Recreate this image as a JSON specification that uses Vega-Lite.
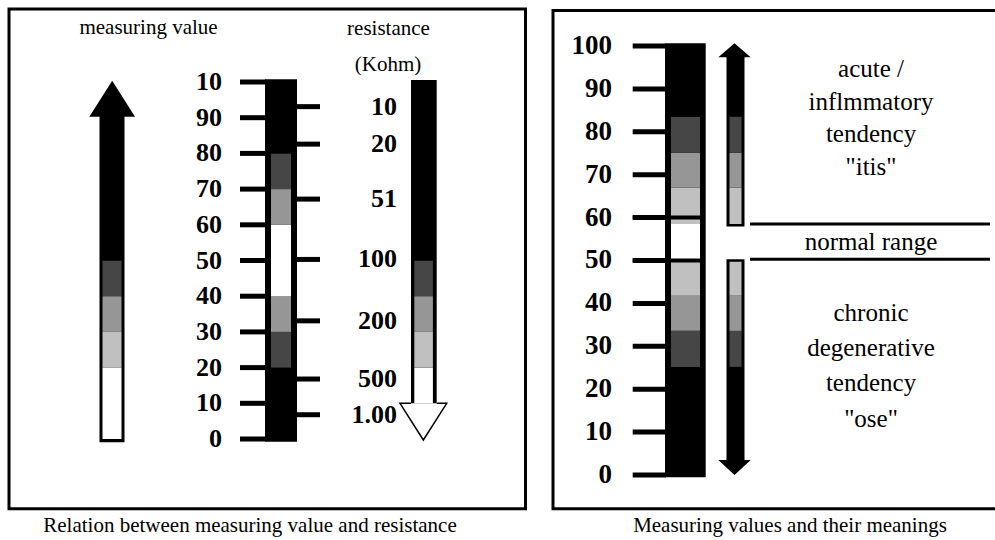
{
  "$schema": "https://vega.github.io/schema/vega-lite/v6.json",
  "width": 995,
  "height": 540,
  "autosize": {"type": "fit", "contains": "padding"},
  "padding": 0,
  "background": "white",
  "config": {"view": {"stroke": null}, "font": "Liberation Serif, DejaVu Serif, Times New Roman, serif", "text": {"font": "Liberation Serif, DejaVu Serif, Times New Roman, serif"}},
  "datasets": {
    "measuringArrow": [
      {"from": 0, "to": 20, "shade": "white"},
      {"from": 20, "to": 30, "shade": "light gray"},
      {"from": 30, "to": 40, "shade": "gray"},
      {"from": 40, "to": 50, "shade": "dark gray"},
      {"from": 50, "to": 91, "shade": "black"}
    ],
    "valueBar": [
      {"from": 0, "to": 20, "shade": "black"},
      {"from": 20, "to": 30, "shade": "dark gray"},
      {"from": 30, "to": 40, "shade": "gray"},
      {"from": 40, "to": 60, "shade": "white"},
      {"from": 60, "to": 70, "shade": "gray"},
      {"from": 70, "to": 80, "shade": "dark gray"},
      {"from": 80, "to": 100, "shade": "black"}
    ],
    "resistanceArrow": [
      {"from": 10, "to": 20, "shade": "white"},
      {"from": 20, "to": 30, "shade": "light gray"},
      {"from": 30, "to": 40, "shade": "gray"},
      {"from": 40, "to": 50, "shade": "dark gray"},
      {"from": 50, "to": 100, "shade": "black"}
    ],
    "leftScale": [
      {"value": 0, "label": "0"},
      {"value": 10, "label": "10"},
      {"value": 20, "label": "20"},
      {"value": 30, "label": "30"},
      {"value": 40, "label": "40"},
      {"value": 50, "label": "50"},
      {"value": 60, "label": "60"},
      {"value": 70, "label": "70"},
      {"value": 80, "label": "80"},
      {"value": 90, "label": "90"},
      {"value": 100, "label": "10"}
    ],
    "resistance": [
      {"kohm": "10", "value": 93.1},
      {"kohm": "20", "value": 82.6},
      {"kohm": "51", "value": 67.2},
      {"kohm": "100", "value": 50.3},
      {"kohm": "200", "value": 33.1},
      {"kohm": "500", "value": 16.8},
      {"kohm": "1.00", "value": 6.8}
    ],
    "rightScale": [
      {"value": 0, "label": "0"},
      {"value": 10, "label": "10"},
      {"value": 20, "label": "20"},
      {"value": 30, "label": "30"},
      {"value": 40, "label": "40"},
      {"value": 50, "label": "50"},
      {"value": 60, "label": "60"},
      {"value": 70, "label": "70"},
      {"value": 80, "label": "80"},
      {"value": 90, "label": "90"},
      {"value": 100, "label": "100"}
    ],
    "rightZones": [
      {"from": 0, "to": 25.2, "shade": "black"},
      {"from": 25.2, "to": 33.6, "shade": "dark gray"},
      {"from": 33.6, "to": 41.8, "shade": "gray"},
      {"from": 41.8, "to": 49.7, "shade": "light gray"},
      {"from": 49.7, "to": 58.5, "shade": "white"},
      {"from": 58.5, "to": 67, "shade": "light gray"},
      {"from": 67, "to": 75.1, "shade": "gray"},
      {"from": 75.1, "to": 83.5, "shade": "dark gray"},
      {"from": 83.5, "to": 100, "shade": "black"}
    ],
    "normalRange": [
      {"bound": "upper", "value": 58.5},
      {"bound": "lower", "value": 50.3}
    ]
  },
  "resolve": {"scale": {"y": "independent"}},
  "layer": [
    {
      "layer": [
        {
          "data": {"values": [{"caption": "Relation between measuring value and resistance"}]},
          "mark": {"type": "rect", "filled": false, "color": "black", "strokeWidth": 3},
          "encoding": {
            "x": {"datum": 9, "type": "quantitative", "scale": {"domain": [0, 995], "nice": false, "zero": false}, "axis": null},
            "x2": {"datum": 525.5},
            "y": {"datum": 120.45, "type": "quantitative", "scale": {"domain": [-28.29, 122.97], "nice": false, "zero": false}, "axis": null},
            "y2": {"datum": -19.52}
          }
        },
        {
          "data": {"values": [{"caption": "Relation between measuring value and resistance"}]},
          "mark": {"type": "text", "font": "Liberation Serif, DejaVu Serif, serif", "fontSize": 21, "align": "center", "baseline": "alphabetic", "color": "black"},
          "encoding": {
            "x": {"datum": 250, "type": "quantitative"},
            "y": {"datum": -26.05, "type": "quantitative"},
            "text": {"field": "caption"}
          }
        },
        {
          "data": {"values": [{"header": "measuring value"}]},
          "mark": {"type": "text", "font": "Liberation Serif, DejaVu Serif, serif", "fontSize": 21, "align": "center", "baseline": "alphabetic", "color": "black"},
          "encoding": {
            "x": {"datum": 148.5, "type": "quantitative"},
            "y": {"datum": 113.4, "type": "quantitative"},
            "text": {"field": "header"}
          }
        },
        {
          "data": {"values": [{"header": "resistance"}]},
          "mark": {"type": "text", "font": "Liberation Serif, DejaVu Serif, serif", "fontSize": 21, "align": "center", "baseline": "alphabetic", "color": "black"},
          "encoding": {
            "x": {"datum": 388.5, "type": "quantitative"},
            "y": {"datum": 113.2, "type": "quantitative"},
            "text": {"field": "header"}
          }
        },
        {
          "data": {"values": [{"header": "(Kohm)"}]},
          "mark": {"type": "text", "font": "Liberation Serif, DejaVu Serif, serif", "fontSize": 21, "align": "center", "baseline": "alphabetic", "color": "black"},
          "encoding": {
            "x": {"datum": 388, "type": "quantitative"},
            "y": {"datum": 103.1, "type": "quantitative"},
            "text": {"field": "header"}
          }
        },
        {
          "data": {"values": [{"part": "measuring value arrow"}]},
          "mark": {"type": "rect", "color": "black"},
          "encoding": {
            "x": {"datum": 99.5, "type": "quantitative"},
            "x2": {"datum": 124.5},
            "y": {"datum": -0.9, "type": "quantitative"},
            "y2": {"datum": 91}
          }
        },
        {
          "data": {"name": "measuringArrow"},
          "mark": {"type": "rect"},
          "encoding": {
            "x": {"datum": 102.5, "type": "quantitative"},
            "x2": {"datum": 121.5},
            "y": {"field": "from", "type": "quantitative"},
            "y2": {"field": "to"},
            "color": {"field": "shade", "type": "nominal", "scale": {"domain": ["black", "dark gray", "gray", "light gray", "white"], "range": ["#000000", "#464646", "#969696", "#c0c0c0", "#ffffff"]}, "legend": null}
          }
        },
        {
          "data": {"values": [{"part": "measuring value arrowhead"}]},
          "mark": {"type": "point", "shape": "M-1,0.788L0,-0.788L1,0.788Z", "size": 2088, "filled": true, "color": "black", "opacity": 1, "strokeWidth": 0},
          "encoding": {
            "x": {"datum": 112.2, "type": "quantitative"},
            "y": {"datum": 95.3, "type": "quantitative"}
          }
        },
        {
          "data": {"values": [{"part": "value bar"}]},
          "mark": {"type": "rect", "color": "black"},
          "encoding": {
            "x": {"datum": 265, "type": "quantitative"},
            "x2": {"datum": 297},
            "y": {"datum": -0.8, "type": "quantitative"},
            "y2": {"datum": 100.8}
          }
        },
        {
          "data": {"name": "valueBar"},
          "mark": {"type": "rect"},
          "encoding": {
            "x": {"datum": 271, "type": "quantitative"},
            "x2": {"datum": 291},
            "y": {"field": "from", "type": "quantitative"},
            "y2": {"field": "to"},
            "color": {"field": "shade", "type": "nominal", "legend": null}
          }
        },
        {
          "data": {"name": "leftScale"},
          "mark": {"type": "rule", "color": "black", "strokeWidth": 5},
          "encoding": {
            "x": {"datum": 240, "type": "quantitative"},
            "x2": {"datum": 266},
            "y": {"field": "value", "type": "quantitative"}
          }
        },
        {
          "data": {"name": "leftScale"},
          "mark": {"type": "text", "font": "Liberation Serif, DejaVu Serif, serif", "fontSize": 26, "fontWeight": "bold", "align": "right", "baseline": "middle", "color": "black"},
          "encoding": {
            "x": {"datum": 222, "type": "quantitative"},
            "y": {"field": "value", "type": "quantitative"},
            "text": {"field": "label"}
          }
        },
        {
          "data": {"name": "resistance"},
          "mark": {"type": "rule", "color": "black", "strokeWidth": 5},
          "encoding": {
            "x": {"datum": 296, "type": "quantitative"},
            "x2": {"datum": 320},
            "y": {"field": "value", "type": "quantitative"}
          }
        },
        {
          "data": {"name": "resistance"},
          "mark": {"type": "text", "font": "Liberation Serif, DejaVu Serif, serif", "fontSize": 26, "fontWeight": "bold", "align": "right", "baseline": "middle", "color": "black"},
          "encoding": {
            "x": {"datum": 397, "type": "quantitative"},
            "y": {"field": "value", "type": "quantitative"},
            "text": {"field": "kohm"}
          }
        },
        {
          "data": {"values": [{"part": "resistance arrowhead"}]},
          "mark": {"type": "point", "shape": "M-0.53,-0.786L-1,-0.786L0,0.786L1,-0.786L0.57,-0.786", "size": 2181, "filled": true, "fill": "white", "stroke": "black", "strokeWidth": 1.5, "opacity": 1},
          "encoding": {
            "x": {"datum": 423.35, "type": "quantitative"},
            "y": {"datum": 4.86, "type": "quantitative"}
          }
        },
        {
          "data": {"values": [{"part": "resistance arrow"}]},
          "mark": {"type": "rect", "color": "black"},
          "encoding": {
            "x": {"datum": 411, "type": "quantitative"},
            "x2": {"datum": 436.7},
            "y": {"datum": 10, "type": "quantitative"},
            "y2": {"datum": 100.56}
          }
        },
        {
          "data": {"name": "resistanceArrow"},
          "mark": {"type": "rect"},
          "encoding": {
            "x": {"datum": 414.3, "type": "quantitative"},
            "x2": {"datum": 432.9},
            "y": {"field": "from", "type": "quantitative"},
            "y2": {"field": "to"},
            "color": {"field": "shade", "type": "nominal", "legend": null}
          }
        }
      ]
    },
    {
      "layer": [
        {
          "data": {"values": [{"caption": "Measuring values and their meanings"}]},
          "mark": {"type": "rect", "filled": false, "color": "black", "strokeWidth": 3, "clip": true},
          "encoding": {
            "x": {"datum": 553, "type": "quantitative"},
            "x2": {"datum": 1005},
            "y": {"datum": 108.28, "type": "quantitative", "scale": {"domain": [-15.15, 110.72], "nice": false, "zero": false}, "axis": null},
            "y2": {"datum": -7.86}
          }
        },
        {
          "data": {"values": [{"caption": "Measuring values and their meanings"}]},
          "mark": {"type": "text", "font": "Liberation Serif, DejaVu Serif, serif", "fontSize": 21, "align": "center", "baseline": "alphabetic", "color": "black"},
          "encoding": {
            "x": {"datum": 790, "type": "quantitative"},
            "y": {"datum": -13.4, "type": "quantitative"},
            "text": {"field": "caption"}
          }
        },
        {
          "data": {"values": [{"part": "measuring value bar"}]},
          "mark": {"type": "rect", "color": "black"},
          "encoding": {
            "x": {"datum": 665, "type": "quantitative"},
            "x2": {"datum": 705.7},
            "y": {"datum": -0.54, "type": "quantitative"},
            "y2": {"datum": 100.63}
          }
        },
        {
          "data": {"name": "rightZones"},
          "mark": {"type": "rect"},
          "encoding": {
            "x": {"datum": 671, "type": "quantitative"},
            "x2": {"datum": 700},
            "y": {"field": "from", "type": "quantitative"},
            "y2": {"field": "to"},
            "color": {"field": "shade", "type": "nominal", "legend": null}
          }
        },
        {
          "data": {"name": "rightScale"},
          "mark": {"type": "rule", "color": "black", "strokeWidth": 5},
          "encoding": {
            "x": {"datum": 632.7, "type": "quantitative"},
            "x2": {"datum": 666},
            "y": {"field": "value", "type": "quantitative"}
          }
        },
        {
          "data": {"name": "rightScale"},
          "transform": [{"filter": "datum.value == 50 || datum.value == 60"}],
          "mark": {"type": "rule", "color": "black", "strokeWidth": 4},
          "encoding": {
            "x": {"datum": 632.7, "type": "quantitative"},
            "x2": {"datum": 705},
            "y": {"field": "value", "type": "quantitative"}
          }
        },
        {
          "data": {"name": "rightScale"},
          "mark": {"type": "text", "font": "Liberation Serif, DejaVu Serif, serif", "fontSize": 27, "fontWeight": "bold", "align": "right", "baseline": "middle", "color": "black"},
          "encoding": {
            "x": {"datum": 612, "type": "quantitative"},
            "y": {"field": "value", "type": "quantitative"},
            "text": {"field": "label"}
          }
        },
        {
          "data": {"values": [{"part": "upper arrow"}]},
          "mark": {"type": "rect", "color": "black"},
          "encoding": {
            "x": {"datum": 726.5, "type": "quantitative"},
            "x2": {"datum": 744.5},
            "y": {"datum": 57.9, "type": "quantitative"},
            "y2": {"datum": 98}
          }
        },
        {
          "data": {"name": "rightZones"},
          "transform": [{"filter": "datum.from >= 58.5 && datum.shade != 'black'"}],
          "mark": {"type": "rect"},
          "encoding": {
            "x": {"datum": 729.5, "type": "quantitative"},
            "x2": {"datum": 741.5},
            "y": {"field": "from", "type": "quantitative"},
            "y2": {"field": "to"},
            "color": {"field": "shade", "type": "nominal", "legend": null}
          }
        },
        {
          "data": {"values": [{"part": "upper arrowhead"}]},
          "mark": {"type": "point", "shape": "M-1,0.432L0,-0.432L1,0.432Z", "size": 1050, "filled": true, "color": "black", "opacity": 1, "strokeWidth": 0},
          "encoding": {
            "x": {"datum": 734.5, "type": "quantitative"},
            "y": {"datum": 99.0, "type": "quantitative"}
          }
        },
        {
          "data": {"values": [{"part": "lower arrow"}]},
          "mark": {"type": "rect", "color": "black"},
          "encoding": {
            "x": {"datum": 726.5, "type": "quantitative"},
            "x2": {"datum": 744.5},
            "y": {"datum": 3.2, "type": "quantitative"},
            "y2": {"datum": 50.3}
          }
        },
        {
          "data": {"name": "rightZones"},
          "transform": [{"filter": "datum.to <= 49.7 && datum.shade != 'black'"}],
          "mark": {"type": "rect"},
          "encoding": {
            "x": {"datum": 729.5, "type": "quantitative"},
            "x2": {"datum": 741.5},
            "y": {"field": "from", "type": "quantitative"},
            "y2": {"field": "to"},
            "color": {"field": "shade", "type": "nominal", "legend": null}
          }
        },
        {
          "data": {"values": [{"part": "lower arrowhead"}]},
          "mark": {"type": "point", "shape": "M-1,-0.463L1,-0.463L0,0.463Z", "size": 1050, "filled": true, "color": "black", "opacity": 1, "strokeWidth": 0},
          "encoding": {
            "x": {"datum": 734.5, "type": "quantitative"},
            "y": {"datum": 1.75, "type": "quantitative"}
          }
        },
        {
          "data": {"name": "normalRange"},
          "mark": {"type": "rule", "color": "black", "strokeWidth": 3},
          "encoding": {
            "x": {"datum": 750, "type": "quantitative"},
            "x2": {"datum": 990},
            "y": {"field": "value", "type": "quantitative"}
          }
        },
        {
          "data": {"values": [{"meaning": "normal range"}]},
          "mark": {"type": "text", "font": "Liberation Serif, DejaVu Serif, serif", "fontSize": 25, "align": "center", "baseline": "alphabetic", "color": "black"},
          "encoding": {
            "x": {"datum": 871, "type": "quantitative"},
            "y": {"datum": 52.56, "type": "quantitative"},
            "text": {"field": "meaning"}
          }
        },
        {
          "data": {"values": [{"meaning": "acute /\ninflmmatory\ntendency\n\"itis\""}]},
          "mark": {"type": "text", "font": "Liberation Serif, DejaVu Serif, serif", "fontSize": 25, "align": "center", "baseline": "alphabetic", "lineBreak": "\n", "lineHeight": 32.7, "color": "black"},
          "encoding": {
            "x": {"datum": 871, "type": "quantitative"},
            "y": {"datum": 92.8, "type": "quantitative"},
            "text": {"field": "meaning"}
          }
        },
        {
          "data": {"values": [{"meaning": "chronic\ndegenerative\ntendency\n\"ose\""}]},
          "mark": {"type": "text", "font": "Liberation Serif, DejaVu Serif, serif", "fontSize": 25, "align": "center", "baseline": "alphabetic", "lineBreak": "\n", "lineHeight": 35.2, "color": "black"},
          "encoding": {
            "x": {"datum": 871, "type": "quantitative"},
            "y": {"datum": 35.9, "type": "quantitative"},
            "text": {"field": "meaning"}
          }
        }
      ]
    }
  ]
}
